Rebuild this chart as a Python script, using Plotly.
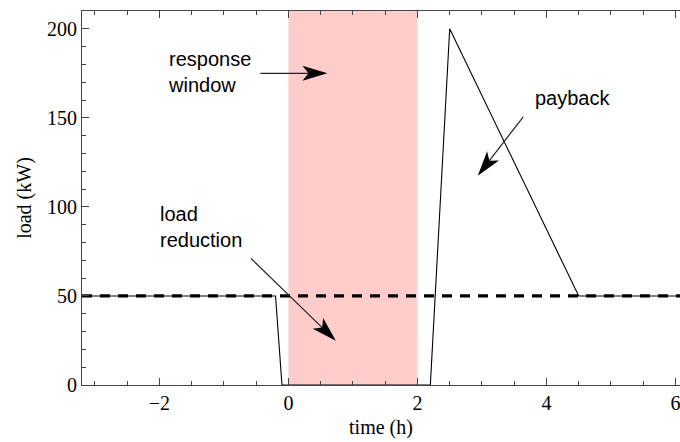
import math
import plotly.graph_objects as go

# Load profile around a demand-response event
time_h = [-3.2, -0.2, -0.1, 2.2, 2.5, 4.5, 6.2]
load_kw = [50, 50, 0, 0, 200, 50, 50]

# Baseline load
baseline_t = [-3.2, 6.2]
baseline_kw = [50, 50]

# Response window (hours)
window_start = 0
window_end = 2

# Annotation labels, text anchors and arrow (tail -> tip) in data units
labels = ["response<br>window", "payback", "load<br>reduction"]
label_x = [-1.9, 4.40, -2.02]
label_y = [175.5, 161, 89]
label_anchor = ["left", "center", "left"]
tail_x = [-0.434, 3.64, -0.578]
tail_y = [175, 150.6, 71]
tip_x = [0.605, 2.935, 0.735]
tip_y = [175, 117.5, 24.8]

x_range = [-3.2, 6.07]
y_range = [0, 210]

W, H = 680, 442
M = dict(l=82, r=0, t=11, b=57)
px_per_x = (W - M["l"] - M["r"]) / (x_range[1] - x_range[0])
px_per_y = (H - M["t"] - M["b"]) / (y_range[1] - y_range[0])

fig = go.Figure()

fig.add_shape(type="rect", xref="x", yref="paper",
              x0=window_start, x1=window_end, y0=0, y1=1,
              fillcolor="#FFCCCC", line_width=0, layer="below")

fig.add_trace(go.Scatter(x=time_h, y=load_kw, mode="lines",
                         line=dict(color="black", width=1.1),
                         hoverinfo="skip", showlegend=False))
fig.add_trace(go.Scatter(x=baseline_t, y=baseline_kw, mode="lines",
                         line=dict(color="black", width=3.3, dash="10px,8px"),
                         hoverinfo="skip", showlegend=False))

label_font = dict(family="Liberation Sans, Arial", size=20, color="black")
for txt, lx, ly, anc in zip(labels, label_x, label_y, label_anchor):
    fig.add_annotation(x=lx, y=ly, xref="x", yref="y", text=txt,
                       showarrow=False, xanchor=anc, yanchor="middle",
                       align="left", font=label_font)

# Arrows: thin shaft plus a notched, filled head sized in pixels
HEAD_LEN, HEAD_HALF, NOTCH = 25, 7.5, 6
for x0, y0, x1, y1 in zip(tail_x, tail_y, tip_x, tip_y):
    dx = (x1 - x0) * px_per_x
    dy = (y1 - y0) * px_per_y
    n = math.hypot(dx, dy)
    ux, uy = dx / n, dy / n
    px_, py_ = -uy, ux
    bx, by = -HEAD_LEN * ux, -HEAD_LEN * uy
    pts = [(0, 0),
           (bx + HEAD_HALF * px_, by + HEAD_HALF * py_),
           (-(HEAD_LEN - NOTCH) * ux, -(HEAD_LEN - NOTCH) * uy),
           (bx - HEAD_HALF * px_, by - HEAD_HALF * py_)]
    path = "M " + " L ".join(f"{a:.2f},{b:.2f}" for a, b in pts) + " Z"
    # shaft ends at the notch of the head
    sx = x1 - (HEAD_LEN - NOTCH) * ux / px_per_x
    sy = y1 - (HEAD_LEN - NOTCH) * uy / px_per_y
    fig.add_shape(type="line", xref="x", yref="y", x0=x0, y0=y0, x1=sx, y1=sy,
                  line=dict(color="#222", width=1.2))
    fig.add_shape(type="path", xref="x", yref="y",
                  xsizemode="pixel", ysizemode="pixel",
                  xanchor=x1, yanchor=y1, path=path,
                  fillcolor="black", line_width=0)

tick_font = dict(family="Liberation Serif, Times New Roman", size=20, color="black")
axis_col = "#444"
fig.update_layout(
    width=W, height=H, margin=M,
    plot_bgcolor="white", paper_bgcolor="white",
    showlegend=False,
    xaxis=dict(range=x_range, tick0=0, dtick=2, ticks="inside", ticklen=7,
               tickcolor=axis_col, showline=True, linecolor=axis_col, linewidth=1,
               mirror="ticks", showgrid=False, zeroline=False,
               tickfont=tick_font, ticklabeloverflow="allow",
               minor=dict(dtick=0.5, tick0=0, ticks="inside", ticklen=4,
                          tickcolor=axis_col, showgrid=False),
               title=dict(text="time (h)", font=tick_font, standoff=6)),
    yaxis=dict(range=y_range, tick0=0, dtick=50, ticks="inside", ticklen=7,
               tickcolor=axis_col, showline=True, linecolor=axis_col, linewidth=1,
               showgrid=False, zeroline=False, tickfont=tick_font,
               minor=dict(dtick=10, tick0=0, ticks="inside", ticklen=4,
                          tickcolor=axis_col, showgrid=False),
               title=dict(text="load (kW)", font=tick_font, standoff=10)),
)

fig.write_html("out.html")
